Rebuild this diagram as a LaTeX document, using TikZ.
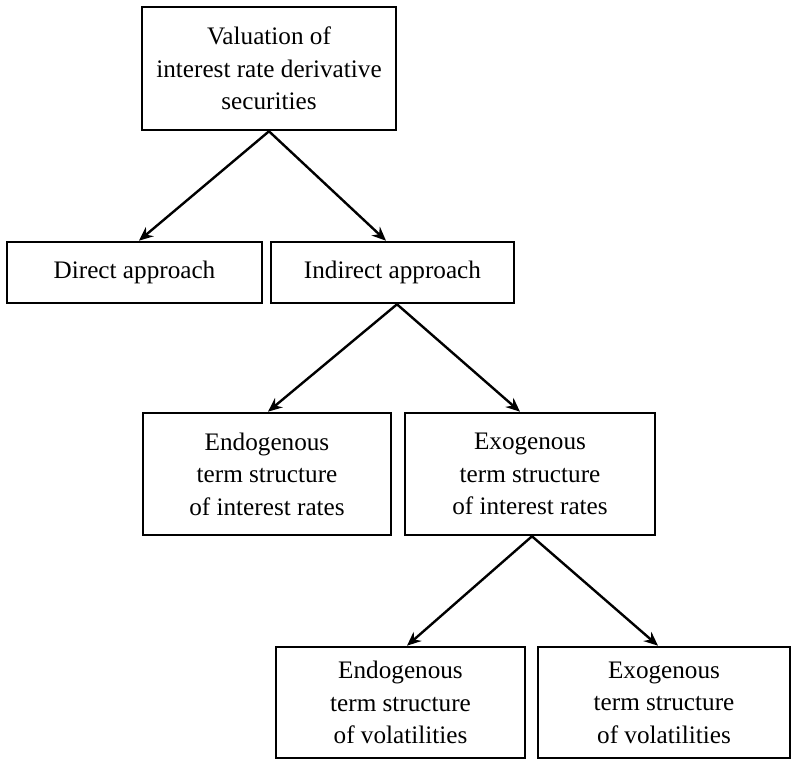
\documentclass[tikz,border=0pt]{standalone}
\usepackage{fontspec}
\setmainfont{Liberation Serif}
\usetikzlibrary{arrows.meta}
\begin{document}
\begin{tikzpicture}[x=0.5pt,y=-0.5pt,
  box/.style={draw, line width=1.3pt, inner sep=0pt, align=center, font=\fontsize{12.6}{16.3}\selectfont},
  arr/.style={line width=1.2pt, -{Stealth[length=7pt,width=6pt]}}]
\useasboundingbox (0,0) rectangle (794,769);
\node[box, minimum width=127pt, minimum height=61.5pt] (top) at (269,68.5) {Valuation of\\interest rate derivative\\securities};
\node[box, minimum width=127.5pt, minimum height=30.5pt] (direct) at (134.5,272.5) {Direct approach};
\node[box, minimum width=121.5pt, minimum height=30.5pt] (indirect) at (392.5,272.5) {Indirect approach};
\node[box, minimum width=124pt, minimum height=61pt] (endoir) at (267,474) {Endogenous\\term structure\\of interest rates};
\node[box, minimum width=125pt, minimum height=61pt] (exoir) at (530,474) {Exogenous\\term structure\\of interest rates};
\node[box, minimum width=124.5pt, minimum height=55.5pt] (endovol) at (400.5,702.5) {Endogenous\\term structure\\of volatilities};
\node[box, minimum width=126pt, minimum height=55.5pt] (exovol) at (664,702.5) {Exogenous\\term structure\\of volatilities};
\draw[arr] (top.south) -- ([xshift=2.25pt]direct.north);
\draw[arr] (top.south) -- ([xshift=-3.25pt]indirect.north);
\draw[arr] ([xshift=2.25pt]indirect.south) -- ([xshift=0.5pt]endoir.north);
\draw[arr] ([xshift=2.25pt]indirect.south) -- ([xshift=-5pt]exoir.north);
\draw[arr] ([xshift=1pt]exoir.south) -- ([xshift=3.25pt]endovol.north);
\draw[arr] ([xshift=1pt]exoir.south) -- ([xshift=-3pt]exovol.north);
\end{tikzpicture}
\end{document}
